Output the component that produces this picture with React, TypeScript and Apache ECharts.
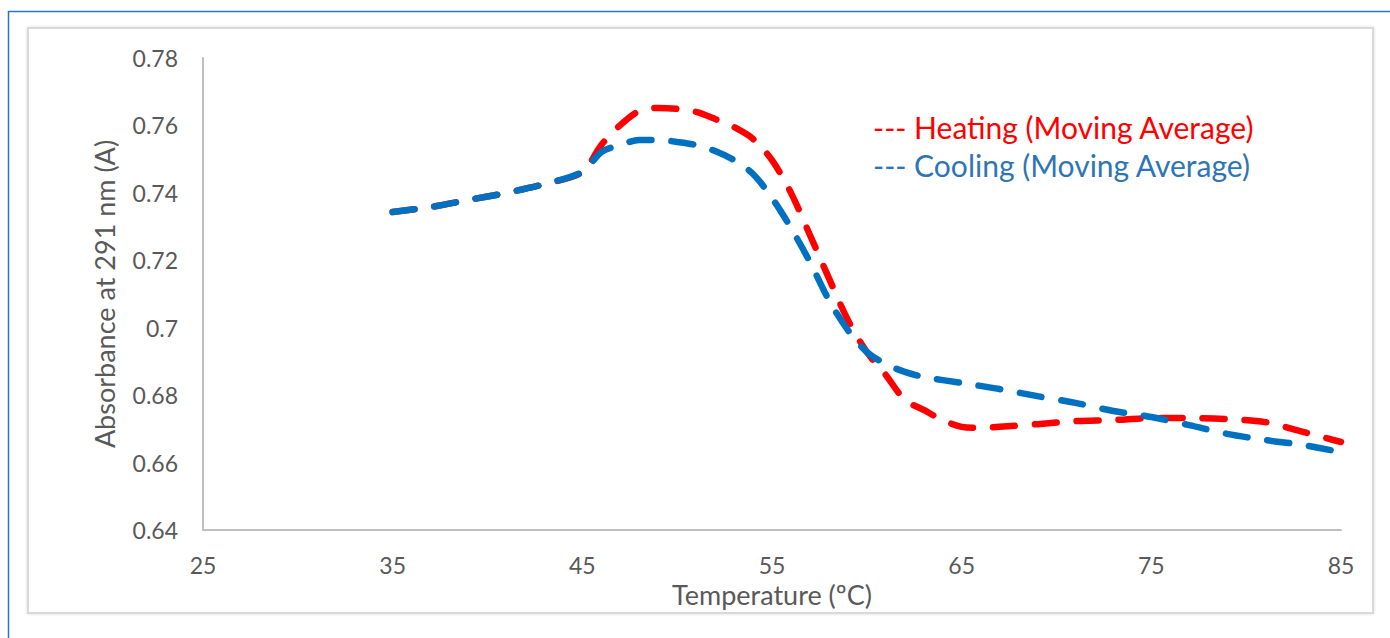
import React, { useEffect, useRef } from "react";
import * as echarts from "echarts";

const coolTemps = [35, 37, 39, 41, 43, 45, 46, 47, 48, 49, 50, 51, 52, 53, 54, 55, 56, 57, 58, 59, 60, 61, 62, 63, 65, 67, 69, 71, 73, 75, 77, 79, 81, 83, 85];
const coolAbs = [0.7343, 0.7358, 0.7379, 0.7400, 0.7426, 0.7462, 0.7521, 0.7542, 0.7557, 0.7557, 0.7551, 0.7542, 0.7524, 0.7497, 0.7456, 0.7385, 0.7296, 0.7195, 0.7082, 0.6993, 0.6928, 0.6892, 0.6869, 0.6854, 0.6836, 0.6818, 0.6797, 0.6777, 0.6753, 0.6735, 0.6711, 0.6685, 0.6667, 0.6652, 0.6631];

const heatTemps = [35, 37, 39, 41, 43, 45, 46, 47, 48, 49, 50, 51, 52, 53, 54, 55, 56, 57, 58, 59, 60, 61, 62, 63, 64, 65, 66, 67, 69, 71, 73, 75, 77, 79, 81, 83, 85];
const heatAbs = [0.7343, 0.7358, 0.7379, 0.7400, 0.7426, 0.7462, 0.7542, 0.7601, 0.7643, 0.7652, 0.7649, 0.7640, 0.7619, 0.7595, 0.7560, 0.7497, 0.7400, 0.7275, 0.7147, 0.7023, 0.6928, 0.6860, 0.6786, 0.6756, 0.6726, 0.6706, 0.6703, 0.6706, 0.6714, 0.6723, 0.6726, 0.6732, 0.6732, 0.6729, 0.6720, 0.6691, 0.6661];

const legendLabels = ["--- Heating (Moving Average)", "--- Cooling (Moving Average)"];
const xTitle = "Temperature (ºC)";
const yTitle = "Absorbance at 291 nm (A)";

const FONT = "Lato";

export default function App() {
  const ref = useRef<HTMLDivElement>(null);
  useEffect(() => {
    if (!ref.current) return;
    const chart = echarts.init(ref.current, undefined, { renderer: "svg" });
    const heat = heatTemps.map((t, i) => [t, heatAbs[i]]);
    const cool = coolTemps.map((t, i) => [t, coolAbs[i]]);
    chart.setOption({
      animation: false,
      backgroundColor: "#ffffff",
      grid: { left: 203, right: 49, top: 58, bottom: 108 },
      xAxis: {
        type: "value",
        min: 25,
        max: 85,
        interval: 10,
        name: xTitle,
        nameLocation: "middle",
        nameGap: 46,
        nameTextStyle: { fontFamily: FONT, fontSize: 27, color: "#595959" },
        axisLine: { lineStyle: { color: "#bfbfbf", width: 2 } },
        axisTick: { show: false },
        splitLine: { show: false },
        axisLabel: { fontFamily: FONT, fontSize: 23, color: "#595959", margin: 23 },
      },
      yAxis: {
        type: "value",
        min: 0.64,
        max: 0.78,
        interval: 0.02,
        name: yTitle,
        nameLocation: "middle",
        nameGap: 85,
        nameTextStyle: { fontFamily: FONT, fontSize: 27, color: "#595959" },
        axisLine: { show: true, lineStyle: { color: "#bfbfbf", width: 2 } },
        axisTick: { show: false },
        splitLine: { show: false },
        axisLabel: { fontFamily: FONT, fontSize: 23, color: "#595959", margin: 25 },
      },
      graphic: [
        {
          type: "rect",
          z: -10,
          silent: true,
          shape: { x: 8.5, y: 11.5, width: 1400, height: 700 },
          style: { fill: "none", stroke: "#2e75b6", lineWidth: 1.5 },
        },
        {
          type: "rect",
          z: -9,
          silent: true,
          shape: { x: 28, y: 28, width: 1345, height: 585 },
          style: { fill: "#ffffff", stroke: "#d9d9d9", lineWidth: 2, shadowBlur: 3, shadowColor: "rgba(0,0,0,0.15)" },
        },
        {
          type: "text",
          left: 873,
          top: 112,
          style: { text: legendLabels[0], fill: "#ff0000", fontFamily: FONT, fontSize: 30 },
        },
        {
          type: "text",
          left: 873,
          top: 150,
          style: { text: legendLabels[1], fill: "#2e75b6", fontFamily: FONT, fontSize: 30 },
        },
      ],
      series: [
        {
          type: "line",
          name: "Heating",
          data: heat,
          smooth: 0.3,
          symbol: "none",
          lineStyle: { color: "#ff0000", width: 6.5, type: [22, 20], cap: "round" },
          z: 2,
        },
        {
          type: "line",
          name: "Cooling",
          data: cool,
          smooth: 0.3,
          symbol: "none",
          lineStyle: { color: "#0070c0", width: 6.5, type: [22, 20], cap: "round" },
          z: 3,
        },
      ],
    });
    return () => chart.dispose();
  }, []);
  return <div ref={ref} style={{ position: "fixed", left: 0, top: 0, width: 1390, height: 638 }} />;
}
